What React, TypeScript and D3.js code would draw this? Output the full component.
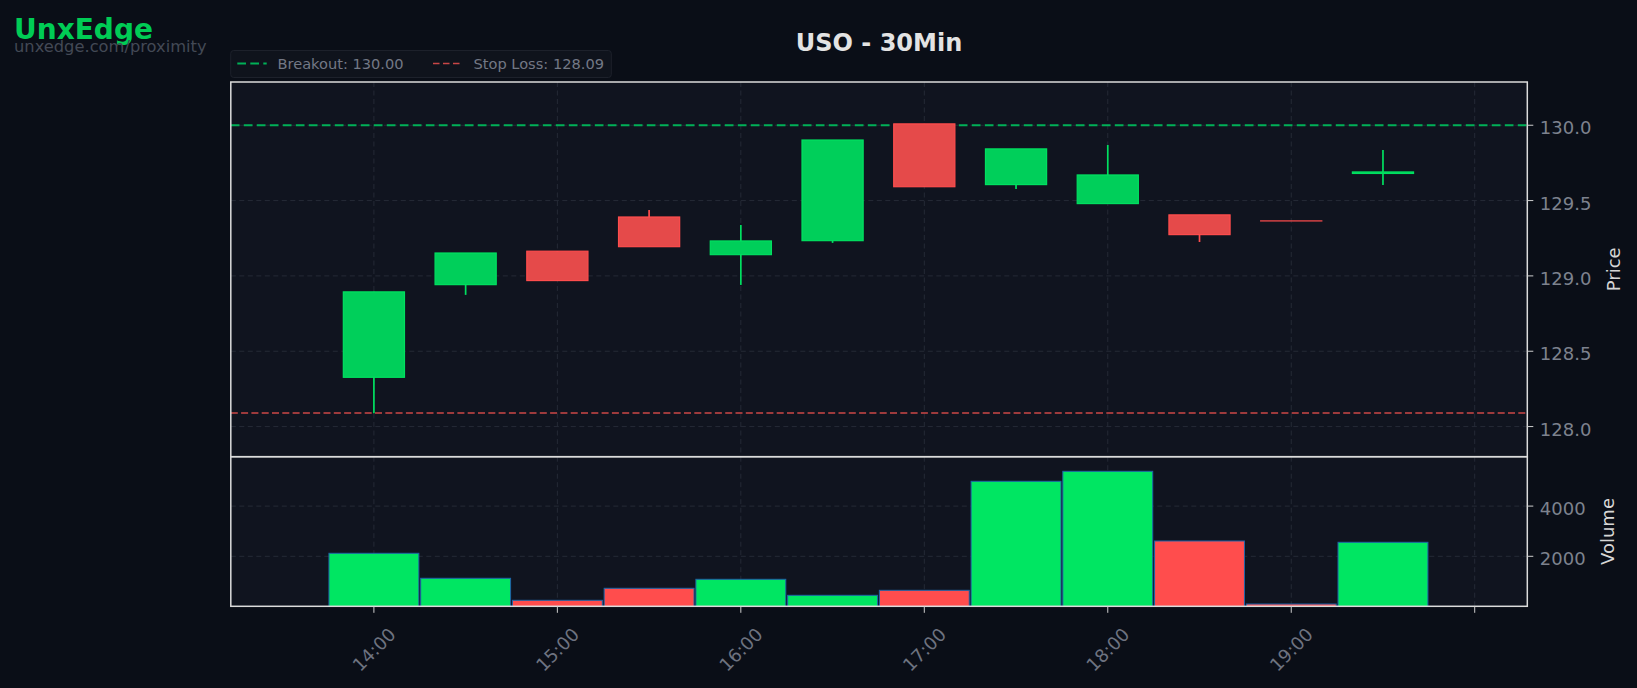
import React, { useEffect } from "react";
import * as d3 from "d3";

// ---- Data ----
const times = ["14:00", "14:30", "15:00", "15:30", "16:00", "16:30", "17:00", "17:30", "18:00", "18:30", "19:00", "19:30"];
const opens = [128.327, 128.942, 129.164, 129.391, 129.141, 129.234, 130.009, 129.606, 129.48, 129.405, 129.365, 129.68];
const highs = [128.894, 129.152, 129.164, 129.438, 129.338, 129.902, 130.009, 129.843, 129.869, 129.405, 129.365, 129.836];
const lows = [128.089, 128.874, 128.969, 129.194, 128.94, 129.219, 129.592, 129.577, 129.48, 129.225, 129.365, 129.604];
const closes = [128.894, 129.152, 128.969, 129.194, 129.232, 129.902, 129.592, 129.843, 129.67, 129.274, 129.365, 129.69];
const volumes = [2120, 1124, 247, 725, 1084, 446, 645, 4988, 5386, 2610, 100, 2558];

const breakout = 130.0;
const stopLoss = 128.09;
const priceTicks = [128.0, 128.5, 129.0, 129.5, 130.0];
const volumeTicks = [2000, 4000];
const hourTicks = ["14:00", "15:00", "16:00", "17:00", "18:00", "19:00", "20:00"];
const hourLabels = ["14:00", "15:00", "16:00", "17:00", "18:00", "19:00", ""];
const priceDomain = [127.8, 130.287];
const volumeDomain = [0, 5968];
const timeDomain = ["13:13:12", "20:17:12"];

const title = "USO - 30Min";
const brand = "UnxEdge";
const brandUrl = "unxedge.com/proximity";

// ---- Layout ----
const W = 1637, H = 688;
const L = 230.8, R = 1527.3, T = 82, M = 456.7, B = 606.3;

const UP_BODY = "#00cf5a", UP_EDGE = "#00e060", UP_VOL = "#00e662";
const DN_BODY = "#e54a4a", DN_EDGE = "#ff4d4d", DN_VOL = "#ff4d4d";
const FONT = "DejaVu Sans, Verdana, sans-serif";

const parseT = d3.timeParse("%Y-%m-%d %H:%M");
const parseS = d3.timeParse("%Y-%m-%d %H:%M:%S");

export default function App() {
  useEffect(() => {
    document.body.style.margin = "0";
    document.body.style.background = "#0a0e17";
  }, []);

  const dates = times.map((t) => parseT("2024-01-02 " + t) as Date);
  const x = d3
    .scaleTime()
    .domain(timeDomain.map((t) => parseS("2024-01-02 " + t) as Date))
    .range([L, R]);
  const yP = d3.scaleLinear().domain(priceDomain).range([M, T]);
  const yV = d3.scaleLinear().domain(volumeDomain).range([606.5, M]);
  const hours = hourTicks.map((t) => parseT("2024-01-02 " + t) as Date);

  const halfBody = (d: Date) => x(d3.timeMinute.offset(d, 10)) - x(d);
  const halfVol = (d: Date) => x(new Date(d.getTime() + 14.7 * 60000)) - x(d);

  const gridColor = "#252a36";

  return (
    <svg width={W} height={H} style={{ position: "absolute", left: 0, top: 0, display: "block" }} fontFamily={FONT}>
      <rect x={0} y={0} width={W} height={H} fill="#0a0e17" />

      {/* Brand */}
      <text x={14} y={38.5} fontSize={28} fontWeight="bold" fill="#00cc55">{brand}</text>
      <text x={14} y={52} fontSize={16.3} fill="#434955">{brandUrl}</text>

      {/* Title */}
      <text x={(L + R) / 2} y={50.7} fontSize={24} fontWeight="bold" fill="#e3e3e3" textAnchor="middle">{title}</text>

      {/* Legend */}
      <rect x={230.7} y={50.5} width={380.6} height={27} rx={3} fill="#0f131c" stroke="#1d212b" strokeWidth={1} />
      <line x1={237.3} x2={266.7} y1={63.5} y2={63.5} stroke="#00b057" strokeWidth={2} strokeDasharray="8.7,4.3" />
      <text x={277.5} y={69} fontSize={14.6} fill="#737885">{`Breakout: ${breakout.toFixed(2)}`}</text>
      <line x1={433} x2={462.6} y1={63.5} y2={63.5} stroke="#c84646" strokeWidth={1.6} strokeDasharray="6.5,3.5" />
      <text x={473.5} y={69} fontSize={14.6} fill="#737885">{`Stop Loss: ${stopLoss.toFixed(2)}`}</text>

      {/* Panel backgrounds */}
      <rect x={L} y={T} width={R - L} height={M - T} fill="#10141f" />
      <rect x={L} y={M} width={R - L} height={B - M} fill="#10141f" />

      {/* Grid: price */}
      {priceTicks.map((p) => (
        <line key={"pg" + p} x1={L} x2={R} y1={yP(p)} y2={yP(p)} stroke={gridColor} strokeWidth={1} strokeDasharray="5,3.5" />
      ))}
      {volumeTicks.map((v) => (
        <line key={"vg" + v} x1={L} x2={R} y1={yV(v)} y2={yV(v)} stroke={gridColor} strokeWidth={1} strokeDasharray="5,3.5" />
      ))}
      {hours.map((h, i) => (
        <g key={"vgl" + i}>
          <line x1={x(h)} x2={x(h)} y1={T} y2={M} stroke={gridColor} strokeWidth={1} strokeDasharray="5,3.5" />
          <line x1={x(h)} x2={x(h)} y1={M} y2={B} stroke={gridColor} strokeWidth={1} strokeDasharray="5,3.5" />
        </g>
      ))}

      {/* Reference lines */}
      <line x1={L} x2={R} y1={yP(breakout)} y2={yP(breakout)} stroke="#00b057" strokeWidth={2} strokeDasharray="8.7,4.3" />
      <line x1={L} x2={R} y1={yP(stopLoss)} y2={yP(stopLoss)} stroke="#cc4747" strokeWidth={1.7} strokeDasharray="7,3.3" />

      {/* Candles */}
      {dates.map((d, i) => {
        const up = closes[i] > opens[i];
        const edge = up ? UP_EDGE : DN_EDGE;
        const body = up ? UP_BODY : DN_BODY;
        const cx = x(d);
        const hw = halfBody(d);
        const top = yP(Math.max(opens[i], closes[i]));
        const bot = yP(Math.min(opens[i], closes[i]));
        return (
          <g key={"c" + i}>
            <line x1={cx} x2={cx} y1={yP(highs[i])} y2={yP(lows[i])} stroke={edge} strokeWidth={1.7} />
            <rect x={cx - hw} y={top} width={2 * hw} height={Math.max(bot - top, 0.01)} fill={body} stroke={edge} strokeWidth={1.2} />
          </g>
        );
      })}

      {/* Volume bars */}
      {dates.map((d, i) => {
        const up = closes[i] > opens[i];
        const cx = x(d);
        const hw = halfVol(d);
        return (
          <rect key={"v" + i} x={cx - hw} y={yV(volumes[i])} width={2 * hw} height={yV(0) - yV(volumes[i])}
            fill={up ? UP_VOL : DN_VOL} stroke="#1f64a8" strokeWidth={1} />
        );
      })}

      {/* Borders */}
      <rect x={L} y={T} width={R - L} height={M - T} fill="none" stroke="#dcdcdc" strokeWidth={1.5} />
      <rect x={L} y={M} width={R - L} height={B - M} fill="none" stroke="#dcdcdc" strokeWidth={1.5} />

      {/* Price axis */}
      {priceTicks.map((p) => (
        <g key={"pt" + p}>
          <line x1={R} x2={R + 6} y1={yP(p)} y2={yP(p)} stroke="#cfcfcf" strokeWidth={1} />
          <text x={R + 12.5} y={yP(p) + 9} fontSize={18} fill="#7d828e">{p.toFixed(1)}</text>
        </g>
      ))}
      <text transform={`translate(1620,${(T + M) / 2}) rotate(-90)`} fontSize={18} fill="#d6d6d6" textAnchor="middle">Price</text>

      {/* Volume axis */}
      {volumeTicks.map((v) => (
        <g key={"vt" + v}>
          <line x1={R} x2={R + 6} y1={yV(v)} y2={yV(v)} stroke="#cfcfcf" strokeWidth={1} />
          <text x={R + 12.5} y={yV(v) + 8.5} fontSize={18} fill="#7d828e">{d3.format("d")(v)}</text>
        </g>
      ))}
      <text transform={`translate(1614,${(M + B) / 2}) rotate(-90)`} fontSize={18} fill="#d6d6d6" textAnchor="middle">Volume</text>

      {/* Time axis */}
      {hours.map((h, i) => (
        <g key={"xt" + i}>
          <line x1={x(h)} x2={x(h)} y1={B} y2={B + 6.5} stroke="#cfcfcf" strokeWidth={1} />
          {hourLabels[i] && (
            <text transform={`translate(${x(h)},${649.5}) rotate(-45)`} fontSize={18} fill="#6e7380"
              textAnchor="middle" dominantBaseline="central">{hourLabels[i]}</text>
          )}
        </g>
      ))}
    </svg>
  );
}
